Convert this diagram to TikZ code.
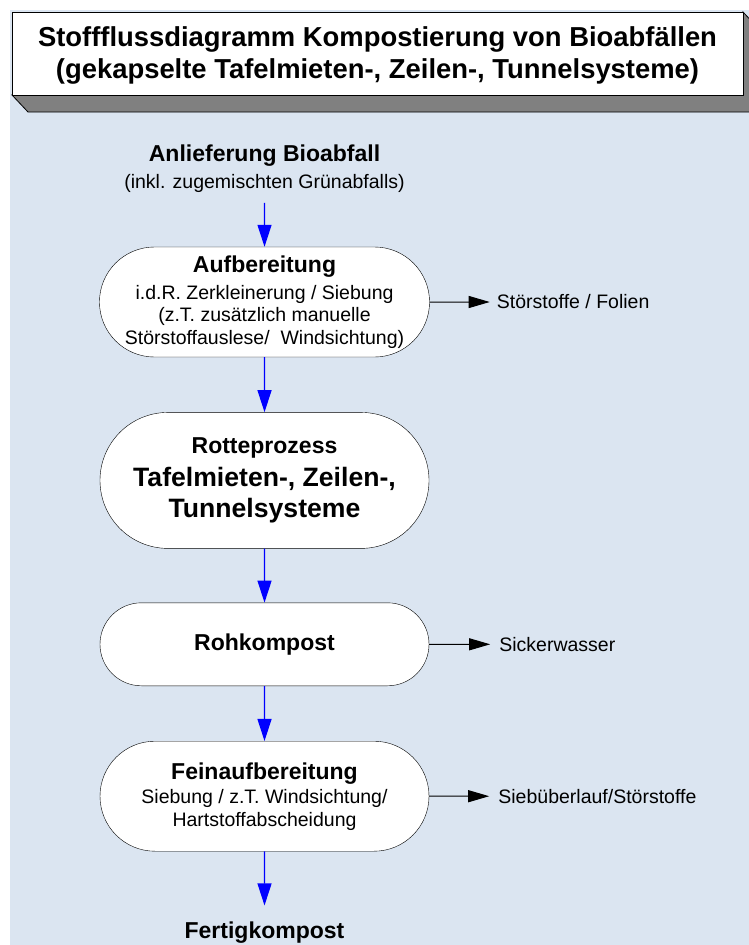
\documentclass[tikz,border=0pt]{standalone}
\usepackage{fontspec}
\setmainfont{Liberation Sans}
\usetikzlibrary{
  arrows.meta,
  shapes.misc,
  positioning
}
\definecolor{kpBack}{HTML}{DBE5F1}
\definecolor{kpShade}{HTML}{808080}
\definecolor{kpFlow}{HTML}{0000FF}
\tikzset{
  kpnode/.style={
    inner sep=0pt, align=center, font=\fontsize{19.5}{22.5}\selectfont
  },
  stage/.style={kpnode, draw=black, fill=white, rounded rectangle,
    minimum width=329pt, minimum height=110pt},
  titel/.style={kpnode, font=\bfseries\fontsize{27.4}{32}\selectfont},
  outlabel/.style={kpnode},
  endlabel/.style={kpnode, font=\bfseries\fontsize{23}{27}\selectfont},
  flow/.style={-{Triangle[length=22pt, width=14pt]}, line width=1.2pt, kpFlow},
  sideflow/.style={-{Triangle[length=21pt, width=12pt]}, line width=1pt, black},
  bevel/.style={draw=black, line width=0.8pt, fill=kpShade},
  head/.style={font=\bfseries\fontsize{23}{27}\selectfont}
}

\begin{document}
\begin{tikzpicture}[x=1pt, y=-1pt]
  \clip (0,0) rectangle (749,945);
  \fill[kpBack] (10,10) rectangle (749,945);
  % header box with shadow faces
  \draw[bevel] (12,95) -- (28,112) -- (759,112) -- (759,29) -- (743,12) -- (743,95) -- cycle;
  \draw[line width=0.8pt, fill=white] (12,12) rectangle (743,95);
  \node[titel] (titel) at (377.5,55)
    {Stoffflussdiagramm Kompostierung von Bioabfällen\\(gekapselte Tafelmieten-, Zeilen-, Tunnelsysteme)};

  \node[stage] (auf) at (264.5,302)
    {{\bfseries\fontsize{23}{27}\selectfont Aufbereitung}\\[4.5pt]
     i.d.R. Zerkleinerung / Siebung\\(z.T. zusätzlich manuelle\\Störstoffauslese/\ \ Windsichtung)};
  \node[kpnode, above=54pt of auf] (lief)
    {{\bfseries\fontsize{23}{27}\selectfont Anlieferung Bioabfall}\\[4.5pt](inkl. zugemischten Grünabfalls)};
  \node[stage, minimum height=136pt, below=55pt of auf, font=\bfseries\fontsize{26.6}{31}\selectfont] (rotte)
    {{\fontsize{23}{27}\selectfont Rotteprozess}\\[2pt]Tafelmieten-, Zeilen-,\\Tunnelsysteme};
  \node[stage, minimum height=83pt, below=54pt of rotte] (roh)
    {{\bfseries\fontsize{23}{27}\selectfont Rohkompost}};
  \node[stage, below=55pt of roh] (fein)
    {{\bfseries\fontsize{23}{27}\selectfont Feinaufbereitung}\\[2pt]
     Siebung / z.T. Windsichtung/\\Hartstoffabscheidung};
  \node[endlabel, below=70pt of fein] (fertig) {Fertigkompost};

  \node[outlabel, right=67pt of auf] (stoer) {Störstoffe / Folien};
  \node[outlabel, right=70pt of roh] (sicker) {Sickerwasser};
  \node[outlabel, right=69pt of fein] (sieb) {Siebüberlauf/Störstoffe};

  \draw[flow, shorten <=10pt] (lief) -- (auf);
  \draw[flow] (auf) -- (rotte);
  \draw[flow] (rotte) -- (roh);
  \draw[flow] (roh) -- (fein);
  \draw[flow, shorten >=16pt] (fein) -- (fertig);

  \draw[sideflow, shorten >=7pt] (auf) -- (stoer);
  \draw[sideflow, shorten >=9pt] (roh) -- (sicker);
  \draw[sideflow, shorten >=9pt] (fein) -- (sieb);
\end{tikzpicture}
\end{document}
